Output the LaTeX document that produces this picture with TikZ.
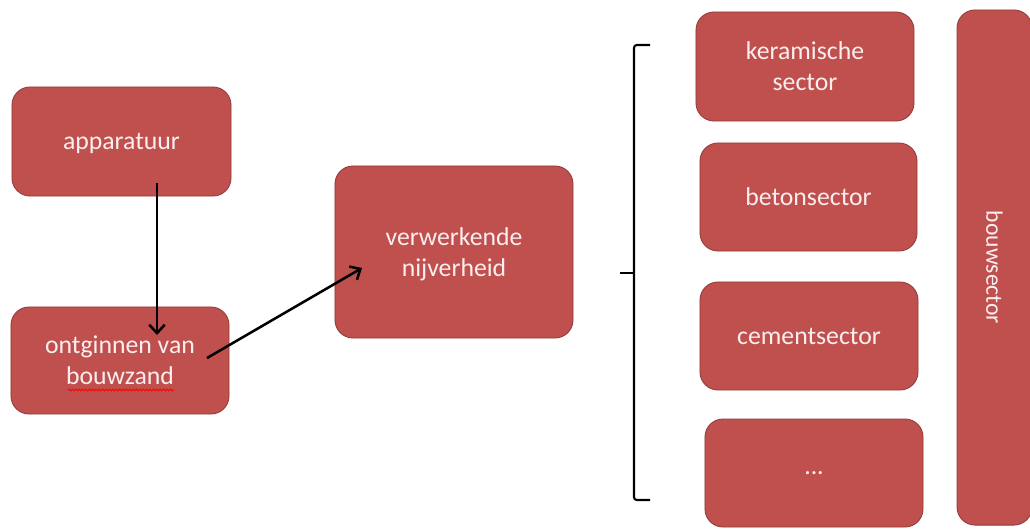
\documentclass[tikz,border=0pt]{standalone}
\usepackage{fontspec}
\setmainfont{Carlito}
\usetikzlibrary{arrows.meta,decorations.pathmorphing}
\definecolor{boxred}{HTML}{C0504D}
\definecolor{boxedge}{HTML}{8E3B39}
\definecolor{boxtext}{HTML}{FBEEF0}
\tikzset{
	blok/.style={draw=boxedge, line width=0.6pt, fill=boxred, rounded corners=0.45cm, text=boxtext, align=center, font=\fontsize{18.3}{22}\selectfont, text depth=-2pt},
	pijl/.style={-{Straight Barb[length=6pt,width=11pt]}, line width=1.8pt},
	squiggle/.style={red, line width=0.6pt, decorate, decoration={snake, amplitude=0.7pt, segment length=2.4pt}}
}
\begin{document}
\begin{tikzpicture}[x=0.025cm,y=-0.025cm]
				\useasboundingbox (0,0) rectangle (1030,529);
				\node[blok, minimum width=5.475cm, minimum height=2.725cm] (app) at (121.5,141.5) {apparatuur};
				\node[blok, minimum width=5.45cm, minimum height=2.675cm] (ontg) at (120,360.5) {ontginnen van\\bouwzand};
				\node[blok, minimum width=5.95cm, minimum height=4.3cm] (verw) at (454,252) {verwerkende\\nijverheid};
				\node[blok, minimum width=5.45cm, minimum height=2.725cm] (ker) at (805,66.5) {keramische\\sector};
				\node[blok, minimum width=5.425cm, minimum height=2.7cm] (beton) at (808.5,197) {betonsector};
				\node[blok, minimum width=5.45cm, minimum height=2.7cm] (cement) at (809,336) {cementsector};
				\node[blok, minimum width=5.45cm, minimum height=2.7cm] (overig) at (814,473) {...};
				\node[blok, text depth=, font=\fontsize{16.8}{20}\selectfont, minimum width=1.875cm, minimum height=12.875cm] (bouw) at (994.5,267.5) {\rotatebox{-90}{bouwsector}};
				\coordinate (A1) at (157,183);
				\coordinate (A2) at (157,335);
				\coordinate (B1) at (207,358);
				\coordinate (B2) at (362,268);
				\draw[pijl] (A1) -- (A2);
				\draw[pijl] (B1) -- (B2);
				\coordinate (K1) at (650,45);
				\coordinate (K2) at (634,45);
				\coordinate (K3) at (634,500);
				\coordinate (K4) at (650,500);
				\coordinate (M) at (634,273);
				\coordinate (P) at (620,273);
				\draw[line width=1.5pt, rounded corners=2pt] (K1) -- (K2) -- (K3) -- (K4);
				\draw[line width=1.5pt] (M) -- (P);
				\draw[squiggle] (68,390) -- (174,390);
\end{tikzpicture}
\end{document}
